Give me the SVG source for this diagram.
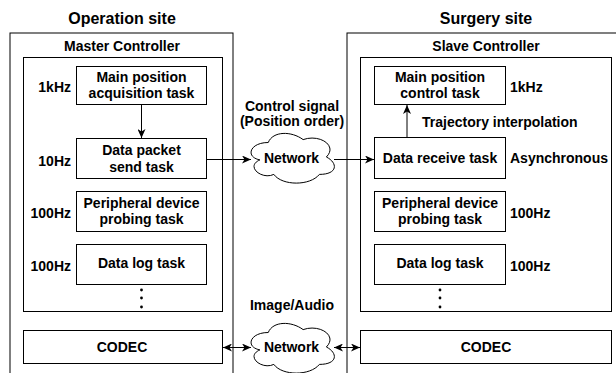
<svg xmlns="http://www.w3.org/2000/svg" width="616" height="373" viewBox="0 0 616 373">
<style>
text{font-family:"Liberation Sans",Arial,sans-serif;font-weight:bold;font-size:14px;fill:#000}
.t{font-size:16px}
.c{text-anchor:middle}
.e{text-anchor:end}
.box{fill:#fff;stroke:#000;stroke-width:1}
.frame{fill:none;stroke:#000;stroke-width:1}
.ln{fill:none;stroke:#000;stroke-width:1}
</style>
<defs>
<marker id="ah" markerUnits="userSpaceOnUse" markerWidth="10" markerHeight="8" refX="9" refY="4" orient="auto-start-reverse">
<path d="M0,0 L9,4 L0,8 L2.5,4 Z" fill="#000"/>
</marker>
<path id="cloud" d="M268.25,142.5 C249.65,142.5 245,157 259.88,159.9 C245,166.28 261.74,180.2 273.83,174.4 C282.2,186 310.1,186 319.4,174.4 C338,174.4 338,162.8 326.375,157 C338,145.4 319.4,133.8 303.125,139.6 C291.5,130.9 272.9,130.9 268.25,142.5 Z" fill="#fff" stroke="#000" stroke-width="1"/>
</defs>
<rect width="616" height="373" fill="#fff"/>

<g id="operation-site">
<text class="t c" x="122" y="24">Operation site</text>
<rect class="frame" x="10" y="33" width="223" height="350"/>
</g>
<g id="master-controller">
<rect class="box" x="23.5" y="57.5" width="199" height="254"/>
<text class="c" x="122" y="50.5">Master Controller</text>
</g>
<g id="master-main">
<rect class="box" x="76.5" y="66.5" width="130" height="38"/>
<text class="c" x="141.5" y="82">Main position</text>
<text class="c" x="141.5" y="98">acquisition task</text>
<text class="e" x="71" y="92">1kHz</text>
</g>
<g id="master-send">
<rect class="box" x="76.5" y="138.5" width="130" height="40"/>
<text class="c" x="141.5" y="155">Data packet</text>
<text class="c" x="141.5" y="172">send task</text>
<text class="e" x="71" y="166">10Hz</text>
</g>
<g id="master-peripheral">
<rect class="box" x="76.5" y="191.5" width="130" height="40"/>
<text class="c" x="141.5" y="208">Peripheral device</text>
<text class="c" x="141.5" y="224">probing task</text>
<text class="e" x="71" y="218">100Hz</text>
</g>
<g id="master-log">
<rect class="box" x="76.5" y="244.5" width="130" height="40"/>
<text class="c" x="141.5" y="268">Data log task</text>
<text class="e" x="71" y="271">100Hz</text>
</g>
<g id="master-dots" fill="#000">
<circle cx="141.5" cy="290" r="1.4"/>
<circle cx="141.5" cy="298" r="1.4"/>
<circle cx="141.5" cy="307" r="1.4"/>
</g>
<g id="master-codec">
<rect class="box" x="23.5" y="330.5" width="199" height="33"/>
<text class="c" x="122" y="352">CODEC</text>
</g>

<g id="surgery-site">
<text class="t c" x="486" y="24">Surgery site</text>
<rect class="frame" x="347" y="33" width="280" height="350"/>
</g>
<g id="slave-controller">
<rect class="box" x="360.5" y="57.5" width="251" height="254"/>
<text class="c" x="486" y="50.5">Slave Controller</text>
</g>
<g id="slave-main">
<rect class="box" x="374.5" y="66.5" width="131" height="38"/>
<text class="c" x="440" y="82">Main position</text>
<text class="c" x="440" y="98">control task</text>
<text x="510" y="92">1kHz</text>
</g>
<g id="slave-receive">
<rect class="box" x="374.5" y="137.5" width="131" height="41"/>
<text class="c" x="440" y="163">Data receive task</text>
<text x="510" y="163">Asynchronous</text>
</g>
<g id="slave-peripheral">
<rect class="box" x="374.5" y="191.5" width="131" height="40"/>
<text class="c" x="440" y="208">Peripheral device</text>
<text class="c" x="440" y="224">probing task</text>
<text x="510" y="218">100Hz</text>
</g>
<g id="slave-log">
<rect class="box" x="374.5" y="244.5" width="131" height="40"/>
<text class="c" x="440" y="268">Data log task</text>
<text x="510" y="271">100Hz</text>
</g>
<g id="slave-dots" fill="#000">
<circle cx="440" cy="290" r="1.4"/>
<circle cx="440" cy="298" r="1.4"/>
<circle cx="440" cy="307" r="1.4"/>
</g>
<g id="slave-codec">
<rect class="box" x="360.5" y="330.5" width="251" height="33"/>
<text class="c" x="486" y="352">CODEC</text>
</g>

<g id="network-control">
<use href="#cloud"/>
<text class="c" x="291.5" y="163">Network</text>
<text class="c" x="292" y="111">Control signal</text>
<text class="c" x="292" y="126">(Position order)</text>
</g>
<g id="network-media">
<use href="#cloud" transform="translate(0,190)"/>
<text class="c" x="291.5" y="352">Network</text>
<text class="c" x="292" y="310">Image/Audio</text>
</g>

<g id="connectors">
<line class="ln" x1="141.5" y1="104.5" x2="141.5" y2="138" marker-end="url(#ah)"/>
<line class="ln" x1="206.5" y1="159.5" x2="251" y2="159.5" marker-end="url(#ah)"/>
<line class="ln" x1="334" y1="159.5" x2="374" y2="159.5" marker-end="url(#ah)"/>
<line class="ln" x1="407" y1="137.5" x2="407" y2="105" marker-end="url(#ah)"/>
<text x="422" y="127">Trajectory interpolation</text>
<line class="ln" x1="223" y1="347.5" x2="251" y2="347.5" marker-start="url(#ah)" marker-end="url(#ah)"/>
<line class="ln" x1="334" y1="347.5" x2="360" y2="347.5" marker-start="url(#ah)" marker-end="url(#ah)"/>
</g>
</svg>
